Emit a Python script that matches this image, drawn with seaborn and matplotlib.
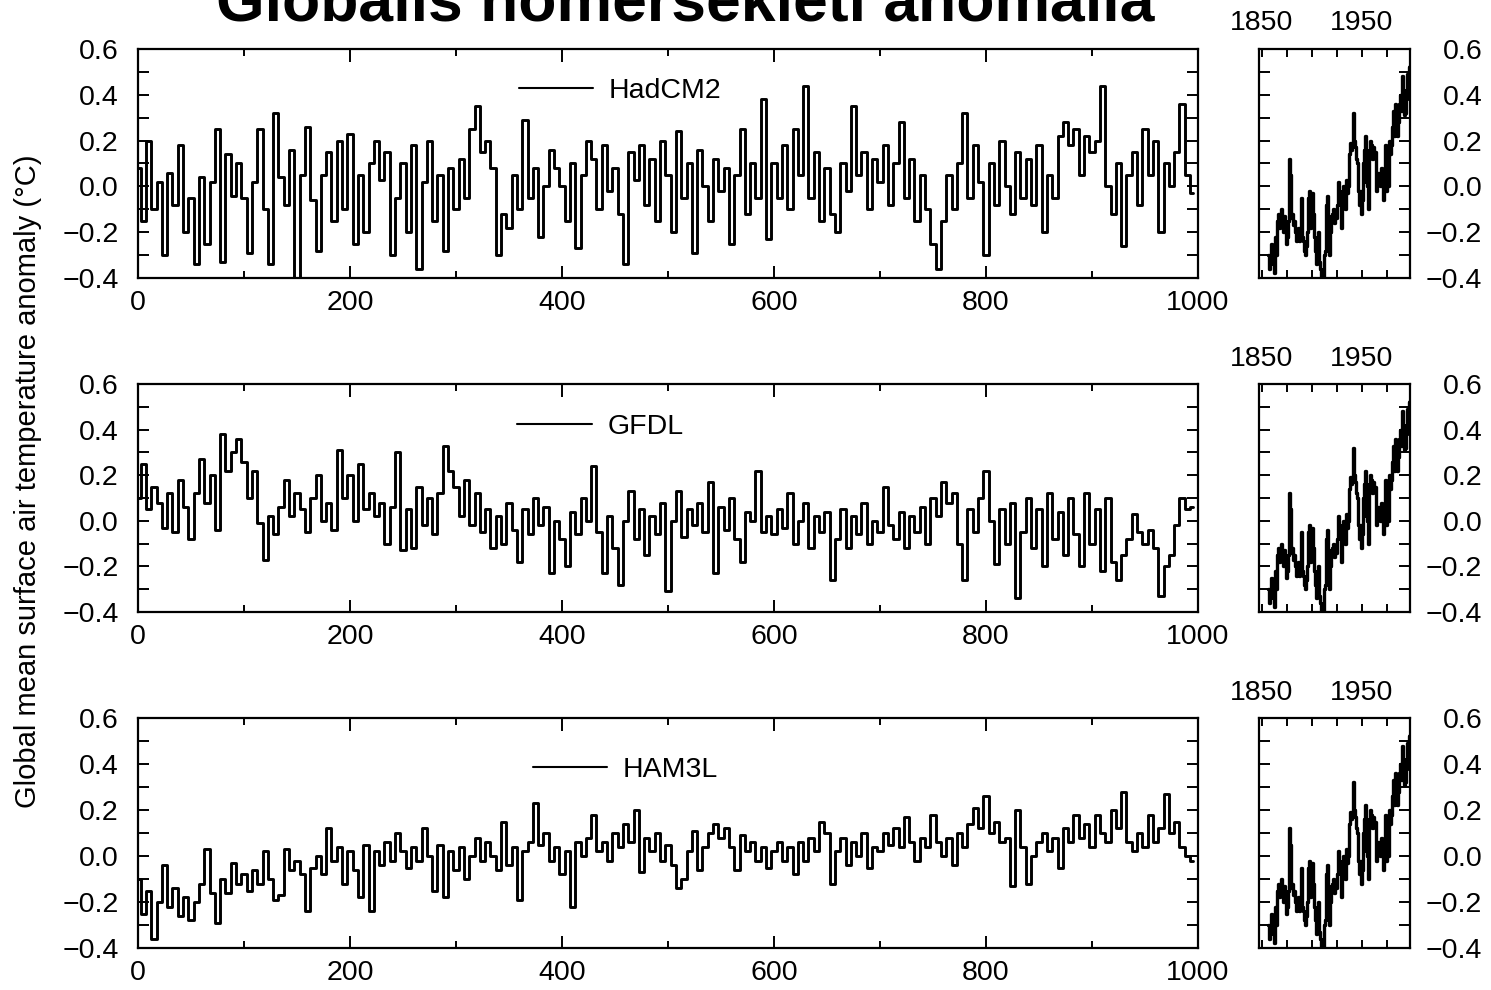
import numpy as np
import pandas as pd
import matplotlib
matplotlib.use("Agg")
import matplotlib.pyplot as plt
import seaborn as sns
from matplotlib.ticker import MultipleLocator, FixedLocator, FuncFormatter

# ---------------- data ----------------
model_years = list(range(0, 1000, 5))

hadcm2 = [
    0.08, -0.15, 0.20, -0.10, 0.02, -0.30, 0.06, -0.08, 0.18, -0.20,
    -0.05, -0.34, 0.04, -0.25, 0.02, 0.25, -0.33, 0.14, -0.04, 0.10,
    -0.05, -0.29, 0.02, 0.25, -0.10, -0.34, 0.32, 0.04, -0.08, 0.16,
    -0.40, 0.05, 0.26, -0.06, -0.28, 0.05, 0.15, -0.15, 0.20, -0.10,
    0.23, -0.25, 0.05, -0.20, 0.10, 0.20, 0.03, 0.15, -0.30, -0.05,
    0.10, -0.20, 0.18, -0.36, 0.02, 0.20, -0.15, 0.05, -0.28, 0.08,
    -0.10, 0.12, -0.05, 0.25, 0.35, 0.15, 0.20, 0.08, -0.30, -0.12,
    -0.18, 0.05, -0.10, 0.29, -0.05, 0.08, -0.22, 0.00, 0.16, 0.08,
    0.00, -0.15, 0.10, -0.27, 0.05, 0.20, 0.12, -0.10, 0.18, -0.02,
    0.08, -0.12, -0.34, 0.15, 0.03, 0.18, -0.08, 0.12, -0.15, 0.20,
    0.05, -0.20, 0.24, -0.05, 0.10, -0.29, 0.16, 0.00, -0.15, 0.12,
    -0.02, 0.08, -0.25, 0.05, 0.25, -0.12, 0.10, -0.05, 0.38, -0.23,
    0.10, -0.05, 0.18, -0.10, 0.25, 0.05, 0.44, -0.05, 0.15, -0.15,
    0.08, -0.12, -0.20, 0.10, -0.02, 0.35, 0.05, 0.15, -0.10, 0.12,
    0.02, 0.18, -0.08, 0.10, 0.28, -0.05, 0.12, -0.15, 0.05, -0.10,
    -0.25, -0.36, -0.15, 0.05, -0.10, 0.10, 0.32, -0.05, 0.18, 0.02,
    -0.30, 0.10, -0.08, 0.20, 0.00, -0.12, 0.15, -0.05, 0.12, -0.08,
    0.18, -0.20, 0.05, -0.05, 0.22, 0.28, 0.18, 0.25, 0.05, 0.22,
    0.15, 0.20, 0.44, 0.00, -0.12, 0.10, -0.26, 0.05, 0.15, -0.08,
    0.25, 0.05, 0.20, -0.20, 0.10, 0.00, 0.15, 0.36, 0.05, -0.03,
]

gfdl = [
    0.10, 0.25, 0.05, 0.15, 0.08, -0.03, 0.12, -0.05, 0.18, 0.06,
    -0.08, 0.12, 0.27, 0.08, 0.20, -0.04, 0.38, 0.22, 0.30, 0.36,
    0.26, 0.10, 0.22, -0.01, -0.17, 0.02, -0.06, 0.06, 0.18, 0.02,
    0.12, 0.05, -0.05, 0.10, 0.20, 0.00, 0.08, -0.04, 0.31, 0.10,
    0.20, 0.00, 0.25, 0.05, 0.12, 0.02, 0.08, -0.10, 0.06, 0.30,
    -0.13, 0.05, -0.12, 0.15, -0.02, 0.10, -0.06, 0.12, 0.33, 0.22,
    0.15, 0.02, 0.18, -0.02, 0.12, -0.05, 0.05, -0.12, 0.02, -0.10,
    0.08, -0.04, -0.18, 0.05, -0.06, 0.10, -0.02, 0.06, -0.23, 0.00,
    -0.08, -0.20, 0.04, -0.06, 0.10, 0.00, 0.24, -0.05, -0.23, 0.02,
    -0.12, -0.28, 0.00, 0.13, -0.08, 0.05, -0.15, 0.02, -0.06, 0.08,
    -0.31, 0.00, 0.13, -0.07, 0.05, -0.02, 0.08, -0.05, 0.17, -0.23,
    0.06, -0.04, 0.10, -0.08, -0.18, 0.04, 0.00, 0.22, -0.05, 0.02,
    -0.06, 0.05, -0.03, 0.12, -0.10, 0.00, 0.08, -0.12, 0.02, -0.05,
    0.04, -0.26, -0.08, 0.05, -0.12, 0.02, -0.06, 0.08, -0.10, 0.00,
    -0.05, 0.15, -0.02, -0.08, 0.04, -0.12, 0.02, -0.05, 0.06, -0.10,
    0.10, 0.02, 0.17, 0.08, 0.12, -0.10, -0.26, 0.05, -0.05, 0.10,
    0.22, 0.00, -0.19, 0.05, -0.10, 0.08, -0.34, -0.05, 0.10, -0.12,
    0.05, -0.20, 0.12, -0.08, 0.04, -0.15, 0.10, -0.06, -0.20, 0.12,
    -0.10, 0.05, -0.22, 0.10, -0.18, -0.26, -0.15, -0.08, 0.03, -0.05,
    -0.10, -0.04, -0.12, -0.33, -0.20, -0.15, -0.02, 0.10, 0.05, 0.06,
]

ham3l = [
    -0.10, -0.25, -0.15, -0.36, -0.20, -0.04, -0.22, -0.14, -0.26, -0.18,
    -0.28, -0.20, -0.12, 0.03, -0.16, -0.29, -0.10, -0.16, -0.03, -0.12,
    -0.08, -0.15, -0.06, -0.12, 0.02, -0.10, -0.19, -0.17, 0.03, -0.06,
    -0.02, -0.08, -0.24, -0.05, 0.00, -0.08, 0.12, -0.02, 0.04, -0.12,
    0.02, -0.06, -0.18, 0.05, -0.24, 0.02, -0.04, 0.06, -0.02, 0.10,
    0.02, -0.05, 0.04, -0.02, 0.12, 0.00, -0.15, 0.05, -0.18, 0.02,
    -0.06, 0.04, -0.10, 0.00, 0.08, -0.02, 0.06, 0.00, -0.06, 0.15,
    -0.04, 0.04, -0.19, 0.02, 0.06, 0.23, 0.05, 0.10, -0.02, 0.04,
    -0.08, 0.02, -0.22, 0.06, 0.00, 0.08, 0.18, 0.02, 0.06, -0.02,
    0.10, 0.04, 0.14, 0.06, 0.20, -0.07, 0.08, 0.02, 0.10, -0.02,
    0.05, -0.04, -0.14, -0.10, 0.02, 0.11, -0.06, 0.04, 0.10, 0.14,
    0.08, 0.12, 0.04, -0.06, 0.09, 0.02, 0.06, -0.02, 0.04, -0.05,
    0.02, 0.06, -0.02, 0.04, -0.08, 0.06, -0.02, 0.08, 0.02, 0.15,
    0.10, -0.12, 0.02, 0.08, -0.04, 0.06, 0.00, 0.10, -0.05, 0.04,
    0.02, 0.10, 0.05, 0.12, 0.04, 0.17, 0.06, -0.02, 0.08, 0.04,
    0.18, 0.06, 0.00, 0.08, -0.04, 0.10, 0.04, 0.14, 0.21, 0.12,
    0.26, 0.10, 0.15, 0.06, 0.08, -0.13, 0.20, 0.04, -0.12, 0.00,
    0.06, 0.10, 0.02, 0.08, -0.05, 0.12, 0.06, 0.18, 0.08, 0.14,
    0.04, 0.18, 0.10, 0.06, 0.20, 0.12, 0.28, 0.06, 0.02, 0.10,
    0.04, 0.18, 0.06, 0.12, 0.27, 0.10, 0.15, 0.04, 0.00, -0.02,
]

obs_years = list(range(1856, 1999))
observed = [
    -0.30, -0.36, -0.33, -0.25, -0.31, -0.34, -0.38, -0.22, -0.30, -0.15,
    -0.12, -0.18, -0.14, -0.10, -0.15, -0.20, -0.13, -0.17, -0.25, -0.22,
    -0.15, 0.12, 0.05, -0.14, -0.12, -0.17, -0.15, -0.20, -0.24, -0.22,
    -0.18, -0.24, -0.20, -0.05, -0.22, -0.24, -0.28, -0.30, -0.26, -0.20,
    -0.05, -0.02, -0.18, -0.08, -0.03, -0.12, -0.22, -0.28, -0.34, -0.25,
    -0.20, -0.33, -0.36, -0.40, -0.38, -0.40, -0.30, -0.28, -0.08, -0.04,
    -0.22, -0.30, -0.20, -0.13, -0.12, -0.10, -0.16, -0.12, -0.14, -0.08,
    0.02, -0.05, -0.04, -0.18, -0.02, 0.00, -0.02, -0.10, 0.03, -0.03,
    0.00, 0.14, 0.19, 0.16, 0.18, 0.32, 0.20, 0.17, 0.12, 0.10,
    -0.02, -0.08, -0.02, -0.12, -0.06, 0.10, 0.16, 0.22, 0.02, 0.00,
    -0.10, 0.16, 0.20, 0.18, 0.12, 0.17, 0.13, 0.15, -0.02, 0.04,
    0.06, 0.02, 0.00, 0.08, 0.06, -0.06, 0.04, 0.18, -0.02, 0.10,
    0.00, 0.20, 0.14, 0.18, 0.26, 0.33, 0.22, 0.36, 0.25, 0.22,
    0.28, 0.36, 0.40, 0.33, 0.48, 0.42, 0.31, 0.32, 0.38, 0.49,
    0.40, 0.52, 0.53,
]

model_names = ["HadCM2", "GFDL", "HAM3L"]
model_series = [hadcm2, gfdl, ham3l]
title_text = "Globális hőmérsékleti anomália"
ylabel_text = "Global mean surface air temperature anomaly (°C)"
model_ticks = [0, 200, 400, 600, 800, 1000]
obs_ticks = [1850, 1950]

# ---------------- style ----------------
sns.set_style("ticks")
plt.rcParams['font.family'] = ['Liberation Sans', 'DejaVu Sans']
plt.rcParams['axes.linewidth'] = 1.6
plt.rcParams['text.color'] = 'black'
plt.rcParams['axes.labelcolor'] = 'black'

W, H = 1491, 990
fig = plt.figure(figsize=(W / 100, H / 100), dpi=100)


def fx(px):
    return px / W


def fy(px):
    return 1 - px / H


def fmt(v, pos):
    v = round(v, 1)
    if abs(v) < 1e-9:
        v = 0.0
    s = f"{v:.1f}"
    return s.replace("-", "\u2212")


panel_tops = [49, 384, 718]
panel_bottoms = [278, 612, 948]
legend_pos = [(0.359, 0.817), (0.358, 0.811), (0.373, 0.774)]
FS = 20.5

for i, (name, series) in enumerate(zip(model_names, model_series)):
    top, bot = panel_tops[i], panel_bottoms[i]
    ax = fig.add_axes([fx(138), fy(bot), fx(1198) - fx(138), (bot - top) / H])
    df = pd.DataFrame({"year": model_years, "anomaly": series, "model": name})
    sns.lineplot(data=df, x="year", y="anomaly", ax=ax, color="black",
                 linewidth=2.1, drawstyle="steps-mid", label=name,
                 estimator=None)
    ax.set_xlim(0, 1000)
    ax.set_ylim(-0.4, 0.6)
    ax.xaxis.set_major_locator(FixedLocator(model_ticks))
    ax.xaxis.set_minor_locator(MultipleLocator(100))
    ax.yaxis.set_major_locator(MultipleLocator(0.2))
    ax.yaxis.set_minor_locator(MultipleLocator(0.1))
    ax.yaxis.set_major_formatter(FuncFormatter(fmt))
    ax.tick_params(which="both", direction="in", top=True, right=True,
                   labelsize=FS, width=1.4, colors="black")
    ax.tick_params(axis="x", which="major", length=9, pad=9)
    ax.tick_params(axis="x", which="minor", length=5)
    ax.tick_params(axis="y", which="both", length=8, pad=14)
    ax.set_xlabel("")
    ax.set_ylabel("")
    for sp in ax.spines.values():
        sp.set_linewidth(1.6)
        sp.set_color("black")
    lx, ly = legend_pos[i]
    leg = ax.legend(loc="center left", bbox_to_anchor=(lx, ly), frameon=False,
                    fontsize=FS, borderpad=0, borderaxespad=0, handlelength=2.6,
                    handletextpad=0.55)
    for t in leg.get_texts():
        t.set_color("black")
    for h in leg.get_lines():
        h.set_linewidth(1.5)

    # observed record panel
    ax2 = fig.add_axes([fx(1259), fy(bot), fx(1410) - fx(1259), (bot - top) / H])
    dfo = pd.DataFrame({"year": obs_years, "anomaly": observed})
    sns.lineplot(data=dfo, x="year", y="anomaly", ax=ax2, color="black",
                 linewidth=2.4, drawstyle="steps-mid", estimator=None)
    ax2.set_xlim(1847, 1998)
    ax2.set_ylim(-0.4, 0.6)
    ax2.xaxis.set_major_locator(FixedLocator(obs_ticks))
    ax2.xaxis.set_minor_locator(FixedLocator([1875, 1900, 1925, 1975]))
    ax2.yaxis.set_major_locator(MultipleLocator(0.2))
    ax2.yaxis.set_minor_locator(MultipleLocator(0.1))
    ax2.yaxis.set_major_formatter(FuncFormatter(fmt))
    ax2.tick_params(which="both", direction="in", top=True, bottom=True,
                    left=True, right=True, labeltop=True, labelbottom=False,
                    labelleft=False, labelright=True, labelsize=FS,
                    width=1.4, colors="black")
    ax2.tick_params(axis="x", which="both", length=6, pad=9)
    ax2.tick_params(axis="y", which="both", length=8, pad=52)
    for lbl in ax2.get_yticklabels():
        lbl.set_horizontalalignment("right")
    ax2.set_xlabel("")
    ax2.set_ylabel("")
    for sp in ax2.spines.values():
        sp.set_linewidth(1.6)
        sp.set_color("black")

fig.text(fx(28), fy(481), ylabel_text, rotation=90, ha="center", va="center",
         fontsize=21, color="black")
fig.text(fx(685), fy(22), title_text, ha="center", va="baseline",
         fontsize=45, fontweight="bold", color="black")

fig.savefig("out.png", dpi=100)
